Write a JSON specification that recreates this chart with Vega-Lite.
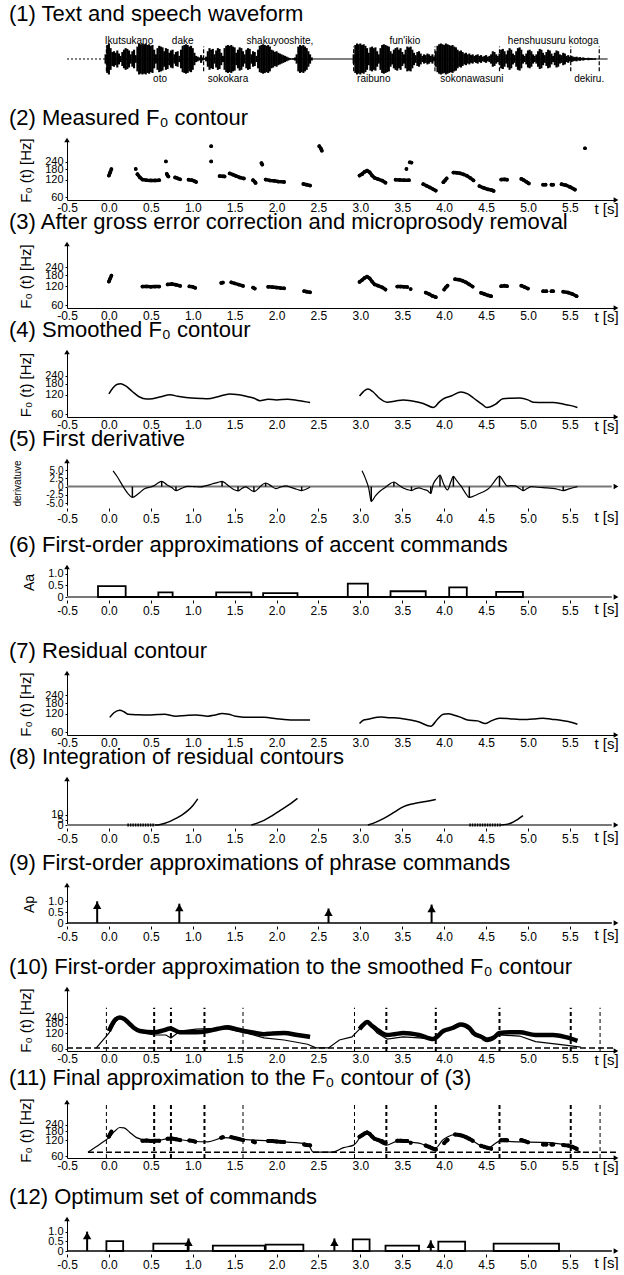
{
"$schema": "https://vega.github.io/schema/vega-lite/v6.json",
"padding": {"left": 9, "top": 3, "right": 0, "bottom": 0},
"spacing": -6,
"config": {
 "font": "Liberation Sans",
 "view": {"stroke": null},
 "title": {"fontSize": 22, "fontWeight": "normal", "anchor": "start", "frame": "group", "dx": -58, "offset": 8, "color": "black", "font": "Liberation Sans"},
 "axis": {"grid": false, "domainColor": "black", "tickColor": "black", "labelColor": "black", "titleColor": "black", "titleFontWeight": "normal"},
 "axisX": {"labelFontSize": 12, "labelPadding": 2, "tickSize": 0, "labelFlush": false, "labelOverlap": false, "titleFontSize": 15, "titleX": 539, "titleY": 1, "titleBaseline": "top", "titleAlign": "center", "titleAngle": 0},
 "axisY": {"labelFontSize": 11, "labelPadding": 2, "tickSize": 2, "minExtent": 28, "maxExtent": 28, "titleFontSize": 15, "titlePadding": 6, "labelOverlap": false, "labelFlush": false}
},
"datasets": {
 "wave": [
  {"t":-0.04,"a":0.3},{"t":-0.02,"a":0.9},{"t":0.0,"a":1.0},{"t":0.02,"a":0.7},{"t":0.04,"a":0.45},{"t":0.06,"a":0.5},{"t":0.08,"a":0.4},{"t":0.1,"a":0.55},{"t":0.12,"a":0.35},{"t":0.14,"a":0.2},{"t":0.16,"a":0.45},{"t":0.18,"a":0.6},{"t":0.2,"a":0.7},{"t":0.22,"a":0.65},{"t":0.24,"a":0.55},{"t":0.26,"a":0.3},{"t":0.28,"a":0.5},{"t":0.3,"a":0.6},{"t":0.32,"a":0.25},{"t":0.34,"a":0.8},{"t":0.36,"a":1.0},{"t":0.38,"a":0.95},{"t":0.4,"a":1.0},{"t":0.42,"a":0.95},{"t":0.44,"a":1.0},{"t":0.46,"a":0.9},{"t":0.48,"a":0.95},{"t":0.5,"a":0.85},{"t":0.52,"a":0.9},{"t":0.54,"a":0.6},{"t":0.56,"a":0.3},{"t":0.58,"a":0.7},{"t":0.6,"a":0.85},{"t":0.62,"a":0.8},{"t":0.64,"a":0.75},{"t":0.66,"a":0.5},{"t":0.68,"a":0.7},{"t":0.7,"a":0.65},{"t":0.72,"a":0.4},{"t":0.74,"a":0.55},{"t":0.76,"a":0.6},{"t":0.78,"a":0.3},{"t":0.8,"a":0.45},{"t":0.82,"a":0.5},{"t":0.84,"a":0.2},{"t":0.86,"a":0.6},{"t":0.88,"a":0.85},{"t":0.9,"a":0.9},{"t":0.92,"a":0.95},{"t":0.94,"a":0.9},{"t":0.96,"a":0.8},{"t":0.98,"a":0.85},{"t":1.0,"a":0.7},{"t":1.02,"a":0.4},{"t":1.04,"a":0.2},{"t":1.06,"a":0.15},{"t":1.08,"a":0.1},{"t":1.1,"a":0.25},{"t":1.12,"a":0.1},{"t":1.14,"a":0.05},{"t":1.16,"a":0.15},{"t":1.18,"a":0.5},{"t":1.2,"a":0.7},{"t":1.22,"a":0.6},{"t":1.24,"a":0.65},{"t":1.26,"a":0.3},{"t":1.28,"a":0.55},{"t":1.3,"a":0.7},{"t":1.32,"a":0.65},{"t":1.34,"a":0.4},{"t":1.36,"a":0.2},{"t":1.38,"a":0.7},{"t":1.4,"a":0.85},{"t":1.42,"a":0.9},{"t":1.44,"a":0.85},{"t":1.46,"a":0.9},{"t":1.48,"a":0.8},{"t":1.5,"a":0.75},{"t":1.52,"a":0.4},{"t":1.54,"a":0.6},{"t":1.56,"a":0.75},{"t":1.58,"a":0.7},{"t":1.6,"a":0.5},{"t":1.62,"a":0.3},{"t":1.64,"a":0.6},{"t":1.66,"a":0.7},{"t":1.68,"a":0.65},{"t":1.7,"a":0.3},{"t":1.72,"a":0.5},{"t":1.74,"a":0.45},{"t":1.76,"a":0.2},{"t":1.78,"a":0.6},{"t":1.8,"a":0.85},{"t":1.82,"a":0.9},{"t":1.84,"a":0.95},{"t":1.86,"a":0.9},{"t":1.88,"a":0.85},{"t":1.9,"a":0.9},{"t":1.92,"a":0.8},{"t":1.94,"a":0.6},{"t":1.96,"a":0.55},{"t":1.98,"a":0.45},{"t":2.0,"a":0.5},{"t":2.02,"a":0.4},{"t":2.04,"a":0.35},{"t":2.06,"a":0.3},{"t":2.08,"a":0.25},{"t":2.1,"a":0.2},{"t":2.12,"a":0.15},{"t":2.14,"a":0.1},{"t":2.16,"a":0.05},{"t":2.18,"a":0.03},{"t":2.2,"a":0.05},{"t":2.22,"a":0.1},{"t":2.24,"a":0.3},{"t":2.26,"a":0.8},{"t":2.28,"a":0.9},{"t":2.3,"a":0.85},{"t":2.32,"a":0.9},{"t":2.34,"a":0.8},{"t":2.36,"a":0.7},{"t":2.38,"a":0.5},{"t":2.4,"a":0.3},{"t":2.42,"a":0.1},
  {"t":2.92,"a":0.3},{"t":2.94,"a":0.9},{"t":2.96,"a":1.0},{"t":2.98,"a":0.95},{"t":3.0,"a":1.0},{"t":3.02,"a":0.9},{"t":3.04,"a":0.95},{"t":3.06,"a":0.85},{"t":3.08,"a":0.7},{"t":3.1,"a":0.4},{"t":3.12,"a":0.75},{"t":3.14,"a":0.8},{"t":3.16,"a":0.7},{"t":3.18,"a":0.75},{"t":3.2,"a":0.5},{"t":3.22,"a":0.3},{"t":3.24,"a":0.7},{"t":3.26,"a":0.9},{"t":3.28,"a":0.95},{"t":3.3,"a":0.9},{"t":3.32,"a":0.85},{"t":3.34,"a":0.8},{"t":3.36,"a":0.5},{"t":3.38,"a":0.35},{"t":3.4,"a":0.6},{"t":3.42,"a":0.7},{"t":3.44,"a":0.75},{"t":3.46,"a":0.6},{"t":3.48,"a":0.7},{"t":3.5,"a":0.45},{"t":3.52,"a":0.3},{"t":3.54,"a":0.6},{"t":3.56,"a":0.8},{"t":3.58,"a":0.75},{"t":3.6,"a":0.8},{"t":3.62,"a":0.6},{"t":3.64,"a":0.4},{"t":3.66,"a":0.25},{"t":3.68,"a":0.45},{"t":3.7,"a":0.5},{"t":3.72,"a":0.35},{"t":3.74,"a":0.2},{"t":3.76,"a":0.3},{"t":3.78,"a":0.25},{"t":3.8,"a":0.35},{"t":3.82,"a":0.3},{"t":3.84,"a":0.2},{"t":3.86,"a":0.3},{"t":3.88,"a":0.15},{"t":3.9,"a":0.5},{"t":3.92,"a":0.85},{"t":3.94,"a":0.95},{"t":3.96,"a":1.0},{"t":3.98,"a":0.95},{"t":4.0,"a":0.9},{"t":4.02,"a":1.0},{"t":4.04,"a":0.95},{"t":4.06,"a":0.9},{"t":4.08,"a":0.85},{"t":4.1,"a":0.9},{"t":4.12,"a":0.8},{"t":4.14,"a":0.75},{"t":4.16,"a":0.6},{"t":4.18,"a":0.5},{"t":4.2,"a":0.55},{"t":4.22,"a":0.45},{"t":4.24,"a":0.35},{"t":4.26,"a":0.4},{"t":4.28,"a":0.3},{"t":4.3,"a":0.35},{"t":4.32,"a":0.25},{"t":4.34,"a":0.3},{"t":4.36,"a":0.2},{"t":4.38,"a":0.25},{"t":4.4,"a":0.3},{"t":4.42,"a":0.2},{"t":4.44,"a":0.25},{"t":4.46,"a":0.15},{"t":4.48,"a":0.2},{"t":4.5,"a":0.25},{"t":4.52,"a":0.15},{"t":4.54,"a":0.2},{"t":4.56,"a":0.3},{"t":4.58,"a":0.5},{"t":4.6,"a":0.45},{"t":4.62,"a":0.3},{"t":4.64,"a":0.2},{"t":4.66,"a":0.35},{"t":4.68,"a":0.6},{"t":4.7,"a":0.65},{"t":4.72,"a":0.5},{"t":4.74,"a":0.3},{"t":4.76,"a":0.55},{"t":4.78,"a":0.7},{"t":4.8,"a":0.6},{"t":4.82,"a":0.35},{"t":4.84,"a":0.25},{"t":4.86,"a":0.5},{"t":4.88,"a":0.7},{"t":4.9,"a":0.75},{"t":4.92,"a":0.6},{"t":4.94,"a":0.3},{"t":4.96,"a":0.2},{"t":4.98,"a":0.35},{"t":5.0,"a":0.55},{"t":5.02,"a":0.6},{"t":5.04,"a":0.5},{"t":5.06,"a":0.3},{"t":5.08,"a":0.2},{"t":5.1,"a":0.3},{"t":5.12,"a":0.5},{"t":5.14,"a":0.65},{"t":5.16,"a":0.6},{"t":5.18,"a":0.4},{"t":5.2,"a":0.25},{"t":5.22,"a":0.45},{"t":5.24,"a":0.6},{"t":5.26,"a":0.55},{"t":5.28,"a":0.35},{"t":5.3,"a":0.2},{"t":5.32,"a":0.4},{"t":5.34,"a":0.55},{"t":5.36,"a":0.5},{"t":5.38,"a":0.3},{"t":5.4,"a":0.25},{"t":5.42,"a":0.4},{"t":5.44,"a":0.35},{"t":5.46,"a":0.2},{"t":5.48,"a":0.25},{"t":5.5,"a":0.15},{"t":5.52,"a":0.2},{"t":5.54,"a":0.15},{"t":5.56,"a":0.12},{"t":5.58,"a":0.15},{"t":5.6,"a":0.1},{"t":5.62,"a":0.12},{"t":5.64,"a":0.08},{"t":5.66,"a":0.1},{"t":5.68,"a":0.06},{"t":5.7,"a":0.05},{"t":5.72,"a":0.08},{"t":5.74,"a":0.05},{"t":5.76,"a":0.06},{"t":5.78,"a":0.04},{"t":5.8,"a":0.05}
 ],
 "wbounds": [{"t":-0.03},{"t":1.13},{"t":2.92},{"t":3.89},{"t":4.66},{"t":5.51},{"t":5.85}],
 "words": [
  {"w":"Ikutsukano","t":0.24,"r":"u"},{"w":"dake","t":0.88,"r":"u"},{"w":"shakuyooshite,","t":2.04,"r":"u"},{"w":"fun'ikio","t":3.53,"r":"u"},{"w":"henshuusuru kotoga","t":5.3,"r":"u"},
  {"w":"oto","t":0.61,"r":"l"},{"w":"sokokara","t":1.42,"r":"l"},{"w":"raibuno","t":3.16,"r":"l"},{"w":"sokonawasuni","t":4.33,"r":"l"},{"w":"dekiru.","t":5.73,"r":"l"}
 ],
 "f0meas": [
  {"s":1,"t":0.0,"f":140},{"s":1,"t":0.015,"f":158},{"s":1,"t":0.03,"f":180},
  {"s":2,"t":0.32,"f":181},
  {"s":3,"t":0.34,"f":148},{"s":3,"t":0.37,"f":130},{"s":3,"t":0.4,"f":120},{"s":3,"t":0.45,"f":117},{"s":3,"t":0.5,"f":116},{"s":3,"t":0.55,"f":116},{"s":3,"t":0.6,"f":117},
  {"s":4,"t":0.68,"f":243},
  {"s":5,"t":0.69,"f":150},{"s":5,"t":0.7,"f":140},{"s":5,"t":0.71,"f":135},
  {"s":6,"t":0.79,"f":130},{"s":6,"t":0.82,"f":126},{"s":6,"t":0.85,"f":121},
  {"s":7,"t":0.95,"f":119},{"s":7,"t":0.99,"f":117},{"s":7,"t":1.02,"f":113},{"s":7,"t":1.04,"f":109},
  {"s":8,"t":1.22,"f":440},
  {"s":9,"t":1.22,"f":243},
  {"s":10,"t":1.32,"f":137},{"s":10,"t":1.36,"f":136},{"s":10,"t":1.38,"f":135},
  {"s":11,"t":1.44,"f":152},{"s":11,"t":1.48,"f":145},{"s":11,"t":1.52,"f":137},{"s":11,"t":1.56,"f":130},{"s":11,"t":1.61,"f":125},
  {"s":12,"t":1.72,"f":117},{"s":12,"t":1.74,"f":110},{"s":12,"t":1.75,"f":105},
  {"s":13,"t":1.82,"f":228},{"s":13,"t":1.83,"f":215},
  {"s":14,"t":1.87,"f":120},{"s":14,"t":1.92,"f":116},{"s":14,"t":1.97,"f":114},{"s":14,"t":2.02,"f":111},{"s":14,"t":2.09,"f":109},
  {"s":15,"t":2.32,"f":101},{"s":15,"t":2.36,"f":98},{"s":15,"t":2.4,"f":95},
  {"s":16,"t":2.51,"f":440},{"s":16,"t":2.53,"f":400},{"s":16,"t":2.54,"f":370},
  {"s":17,"t":2.99,"f":140},{"s":17,"t":3.02,"f":148},{"s":17,"t":3.05,"f":162},{"s":17,"t":3.08,"f":170},{"s":17,"t":3.11,"f":160},{"s":17,"t":3.14,"f":140},{"s":17,"t":3.17,"f":128},{"s":17,"t":3.21,"f":122},{"s":17,"t":3.26,"f":115},{"s":17,"t":3.3,"f":106},
  {"s":18,"t":3.42,"f":119},{"s":18,"t":3.47,"f":118},{"s":18,"t":3.52,"f":117},{"s":18,"t":3.58,"f":117},
  {"s":19,"t":3.55,"f":181},
  {"s":20,"t":3.59,"f":235},{"s":20,"t":3.61,"f":232},
  {"s":21,"t":3.75,"f":100},{"s":21,"t":3.79,"f":94},{"s":21,"t":3.83,"f":88},{"s":21,"t":3.87,"f":82},{"s":21,"t":3.9,"f":78},
  {"s":22,"t":3.99,"f":108},{"s":22,"t":4.01,"f":116},{"s":22,"t":4.03,"f":125},
  {"s":23,"t":4.11,"f":157},{"s":23,"t":4.15,"f":156},{"s":23,"t":4.19,"f":153},{"s":23,"t":4.23,"f":147},{"s":23,"t":4.27,"f":139},{"s":23,"t":4.31,"f":128},{"s":23,"t":4.35,"f":116},
  {"s":24,"t":4.42,"f":93},{"s":24,"t":4.47,"f":87},{"s":24,"t":4.52,"f":82},{"s":24,"t":4.57,"f":79},{"s":24,"t":4.59,"f":77},
  {"s":25,"t":4.68,"f":120},{"s":25,"t":4.72,"f":121},{"s":25,"t":4.75,"f":119},
  {"s":26,"t":4.92,"f":123},{"s":26,"t":4.95,"f":117},{"s":26,"t":4.98,"f":110},{"s":26,"t":5.01,"f":103},
  {"s":27,"t":5.18,"f":98},{"s":27,"t":5.21,"f":98},
  {"s":28,"t":5.28,"f":98},{"s":28,"t":5.3,"f":98},
  {"s":29,"t":5.4,"f":100},{"s":29,"t":5.45,"f":96},{"s":29,"t":5.5,"f":90},{"s":29,"t":5.56,"f":81},
  {"s":30,"t":5.68,"f":406}
 ],
 "f0corr": [
  {"s":1,"t":0.0,"f":142},{"s":1,"t":0.015,"f":158},{"s":1,"t":0.03,"f":176},
  {"s":2,"t":0.4,"f":118},{"s":2,"t":0.45,"f":119},{"s":2,"t":0.5,"f":117},{"s":2,"t":0.55,"f":118},{"s":2,"t":0.6,"f":118},
  {"s":3,"t":0.7,"f":128},{"s":3,"t":0.75,"f":130},{"s":3,"t":0.8,"f":126},{"s":3,"t":0.85,"f":121},
  {"s":4,"t":0.96,"f":119},{"s":4,"t":1.0,"f":117},{"s":4,"t":1.03,"f":113},
  {"s":5,"t":1.34,"f":135},{"s":5,"t":1.36,"f":137},
  {"s":6,"t":1.46,"f":138},{"s":6,"t":1.5,"f":133},{"s":6,"t":1.55,"f":127},{"s":6,"t":1.6,"f":121},
  {"s":7,"t":1.72,"f":114},{"s":7,"t":1.74,"f":110},
  {"s":8,"t":1.9,"f":117},{"s":8,"t":1.95,"f":116},{"s":8,"t":2.0,"f":114},{"s":8,"t":2.05,"f":112},{"s":8,"t":2.09,"f":111},
  {"s":9,"t":2.33,"f":100},{"s":9,"t":2.36,"f":98},{"s":9,"t":2.4,"f":96},
  {"s":10,"t":2.99,"f":140},{"s":10,"t":3.02,"f":150},{"s":10,"t":3.05,"f":162},{"s":10,"t":3.08,"f":170},{"s":10,"t":3.11,"f":160},{"s":10,"t":3.14,"f":142},{"s":10,"t":3.17,"f":128},{"s":10,"t":3.21,"f":122},{"s":10,"t":3.26,"f":115},{"s":10,"t":3.3,"f":106},
  {"s":11,"t":3.44,"f":118},{"s":11,"t":3.48,"f":118},{"s":11,"t":3.52,"f":117},{"s":11,"t":3.56,"f":116},
  {"s":12,"t":3.6,"f":108},
  {"s":13,"t":3.78,"f":95},{"s":13,"t":3.82,"f":90},{"s":13,"t":3.86,"f":84},{"s":13,"t":3.9,"f":80},
  {"s":14,"t":4.0,"f":106},{"s":14,"t":4.02,"f":115},{"s":14,"t":4.04,"f":122},
  {"s":15,"t":4.13,"f":155},{"s":15,"t":4.18,"f":152},{"s":15,"t":4.22,"f":146},{"s":15,"t":4.26,"f":138},{"s":15,"t":4.3,"f":128},{"s":15,"t":4.34,"f":118},
  {"s":16,"t":4.44,"f":94},{"s":16,"t":4.48,"f":90},{"s":16,"t":4.52,"f":86},{"s":16,"t":4.56,"f":83},
  {"s":17,"t":4.68,"f":120},{"s":17,"t":4.72,"f":122},{"s":17,"t":4.75,"f":120},
  {"s":18,"t":4.92,"f":122},{"s":18,"t":4.96,"f":116},{"s":18,"t":5.0,"f":110},
  {"s":19,"t":5.18,"f":100},{"s":19,"t":5.22,"f":100},
  {"s":20,"t":5.28,"f":100},{"s":20,"t":5.3,"f":100},
  {"s":21,"t":5.42,"f":98},{"s":21,"t":5.48,"f":95},{"s":21,"t":5.53,"f":90},{"s":21,"t":5.58,"f":83}
 ],
 "smooth": [
  {"s":1,"t":0.0,"f":124},{"s":1,"t":0.05,"f":155},{"s":1,"t":0.1,"f":175},{"s":1,"t":0.14,"f":178},{"s":1,"t":0.2,"f":165},{"s":1,"t":0.28,"f":135},{"s":1,"t":0.36,"f":112},{"s":1,"t":0.45,"f":103},{"s":1,"t":0.52,"f":104},{"s":1,"t":0.62,"f":112},{"s":1,"t":0.73,"f":120},{"s":1,"t":0.82,"f":114},{"s":1,"t":0.92,"f":109},{"s":1,"t":0.99,"f":107},{"s":1,"t":1.1,"f":105},{"s":1,"t":1.18,"f":104},{"s":1,"t":1.3,"f":112},{"s":1,"t":1.44,"f":124},{"s":1,"t":1.55,"f":120},{"s":1,"t":1.66,"f":112},{"s":1,"t":1.74,"f":105},{"s":1,"t":1.8,"f":97},{"s":1,"t":1.9,"f":102},{"s":1,"t":2.0,"f":100},{"s":1,"t":2.13,"f":102},{"s":1,"t":2.25,"f":98},{"s":1,"t":2.4,"f":91},
  {"s":2,"t":2.99,"f":115},{"s":2,"t":3.04,"f":136},{"s":2,"t":3.09,"f":148},{"s":2,"t":3.15,"f":134},{"s":2,"t":3.22,"f":108},{"s":2,"t":3.32,"f":92},{"s":2,"t":3.42,"f":96},{"s":2,"t":3.51,"f":100},{"s":2,"t":3.62,"f":96},{"s":2,"t":3.75,"f":88},{"s":2,"t":3.87,"f":76},{"s":2,"t":3.95,"f":95},{"s":2,"t":3.99,"f":104},{"s":2,"t":4.09,"f":116},{"s":2,"t":4.2,"f":133},{"s":2,"t":4.28,"f":124},{"s":2,"t":4.35,"f":107},{"s":2,"t":4.45,"f":86},{"s":2,"t":4.51,"f":76},{"s":2,"t":4.61,"f":85},{"s":2,"t":4.7,"f":104},{"s":2,"t":4.8,"f":106},{"s":2,"t":4.9,"f":107},{"s":2,"t":5.0,"f":100},{"s":2,"t":5.06,"f":92},{"s":2,"t":5.2,"f":91},{"s":2,"t":5.3,"f":91},{"s":2,"t":5.42,"f":86},{"s":2,"t":5.5,"f":82},{"s":2,"t":5.59,"f":76}
 ],
 "deriv": [
  {"s":1,"t":0.05,"v":4.8,"e":0},{"s":1,"t":0.1,"v":3.0,"e":0},{"s":1,"t":0.18,"v":-0.4,"e":0},{"s":1,"t":0.23,"v":-2.2,"e":0},{"s":1,"t":0.28,"v":-3.3,"e":1},{"s":1,"t":0.35,"v":-2.2,"e":0},{"s":1,"t":0.42,"v":-0.7,"e":0},{"s":1,"t":0.5,"v":-0.1,"e":0},{"s":1,"t":0.54,"v":0.3,"e":0},{"s":1,"t":0.58,"v":1.0,"e":0},{"s":1,"t":0.63,"v":1.6,"e":1},{"s":1,"t":0.69,"v":0.6,"e":0},{"s":1,"t":0.75,"v":-0.3,"e":0},{"s":1,"t":0.8,"v":-1.2,"e":1},{"s":1,"t":0.86,"v":-0.6,"e":0},{"s":1,"t":0.94,"v":0.1,"e":0},{"s":1,"t":1.02,"v":0.0,"e":0},{"s":1,"t":1.09,"v":-0.1,"e":0},{"s":1,"t":1.16,"v":0.3,"e":0},{"s":1,"t":1.23,"v":0.8,"e":0},{"s":1,"t":1.3,"v":1.3,"e":0},{"s":1,"t":1.35,"v":1.6,"e":1},{"s":1,"t":1.4,"v":0.8,"e":0},{"s":1,"t":1.44,"v":0.0,"e":0},{"s":1,"t":1.49,"v":-0.9,"e":0},{"s":1,"t":1.54,"v":-1.3,"e":1},{"s":1,"t":1.59,"v":-0.5,"e":0},{"s":1,"t":1.63,"v":-0.1,"e":0},{"s":1,"t":1.68,"v":-0.8,"e":0},{"s":1,"t":1.73,"v":-1.5,"e":1},{"s":1,"t":1.79,"v":-0.4,"e":0},{"s":1,"t":1.83,"v":0.6,"e":0},{"s":1,"t":1.87,"v":1.1,"e":1},{"s":1,"t":1.93,"v":0.3,"e":0},{"s":1,"t":1.99,"v":-0.6,"e":0},{"s":1,"t":2.05,"v":-0.1,"e":0},{"s":1,"t":2.11,"v":0.2,"e":0},{"s":1,"t":2.18,"v":-0.3,"e":0},{"s":1,"t":2.24,"v":-0.8,"e":0},{"s":1,"t":2.3,"v":-1.2,"e":1},{"s":1,"t":2.35,"v":-0.8,"e":0},{"s":1,"t":2.4,"v":-0.1,"e":0},
  {"s":2,"t":3.02,"v":4.8,"e":0},{"s":2,"t":3.06,"v":2.5,"e":0},{"s":2,"t":3.1,"v":-0.5,"e":0},{"s":2,"t":3.13,"v":-4.5,"e":1},{"s":2,"t":3.18,"v":-2.8,"e":0},{"s":2,"t":3.23,"v":-1.5,"e":0},{"s":2,"t":3.3,"v":-0.2,"e":0},{"s":2,"t":3.35,"v":0.8,"e":0},{"s":2,"t":3.4,"v":1.4,"e":1},{"s":2,"t":3.46,"v":0.4,"e":0},{"s":2,"t":3.51,"v":-0.4,"e":0},{"s":2,"t":3.56,"v":-0.9,"e":0},{"s":2,"t":3.61,"v":-1.2,"e":1},{"s":2,"t":3.66,"v":-0.6,"e":0},{"s":2,"t":3.7,"v":-0.4,"e":0},{"s":2,"t":3.75,"v":-0.8,"e":0},{"s":2,"t":3.8,"v":-1.2,"e":0},{"s":2,"t":3.84,"v":-2.1,"e":1},{"s":2,"t":3.87,"v":0.8,"e":0},{"s":2,"t":3.91,"v":2.4,"e":0},{"s":2,"t":3.95,"v":3.5,"e":1},{"s":2,"t":3.99,"v":1.0,"e":0},{"s":2,"t":4.04,"v":-1.0,"e":0},{"s":2,"t":4.08,"v":1.5,"e":0},{"s":2,"t":4.11,"v":3.1,"e":1},{"s":2,"t":4.15,"v":1.8,"e":0},{"s":2,"t":4.2,"v":0.2,"e":0},{"s":2,"t":4.25,"v":-1.8,"e":0},{"s":2,"t":4.3,"v":-3.3,"e":1},{"s":2,"t":4.36,"v":-2.8,"e":0},{"s":2,"t":4.42,"v":-2.1,"e":0},{"s":2,"t":4.48,"v":-1.4,"e":0},{"s":2,"t":4.54,"v":-0.4,"e":0},{"s":2,"t":4.6,"v":1.6,"e":0},{"s":2,"t":4.66,"v":3.2,"e":1},{"s":2,"t":4.71,"v":1.5,"e":0},{"s":2,"t":4.75,"v":0.2,"e":0},{"s":2,"t":4.8,"v":0.3,"e":0},{"s":2,"t":4.85,"v":0.2,"e":0},{"s":2,"t":4.9,"v":-0.6,"e":0},{"s":2,"t":4.94,"v":-1.2,"e":1},{"s":2,"t":4.99,"v":-0.6,"e":0},{"s":2,"t":5.04,"v":0.0,"e":0},{"s":2,"t":5.12,"v":-0.2,"e":0},{"s":2,"t":5.23,"v":-0.4,"e":0},{"s":2,"t":5.32,"v":-0.6,"e":0},{"s":2,"t":5.37,"v":-0.9,"e":0},{"s":2,"t":5.42,"v":-1.2,"e":1},{"s":2,"t":5.5,"v":-0.6,"e":0},{"s":2,"t":5.59,"v":0.0,"e":0}
 ],
 "acc1": [
  {"t0":-0.13,"t1":0.2,"aa":0.47},{"t0":0.59,"t1":0.76,"aa":0.2},{"t0":1.28,"t1":1.7,"aa":0.2},{"t0":1.84,"t1":2.25,"aa":0.17},{"t0":2.85,"t1":3.09,"aa":0.58},{"t0":3.36,"t1":3.78,"aa":0.25},{"t0":4.06,"t1":4.27,"aa":0.42},{"t0":4.62,"t1":4.94,"aa":0.22}
 ],
 "resid": [
  {"s":1,"t":0.01,"f":105},{"s":1,"t":0.06,"f":125},{"s":1,"t":0.13,"f":138},{"s":1,"t":0.18,"f":130},{"s":1,"t":0.23,"f":118},{"s":1,"t":0.35,"f":116},{"s":1,"t":0.47,"f":115},{"s":1,"t":0.58,"f":117},{"s":1,"t":0.66,"f":118},{"s":1,"t":0.8,"f":110},{"s":1,"t":0.92,"f":113},{"s":1,"t":1.04,"f":115},{"s":1,"t":1.18,"f":110},{"s":1,"t":1.27,"f":115},{"s":1,"t":1.35,"f":122},{"s":1,"t":1.43,"f":118},{"s":1,"t":1.51,"f":110},{"s":1,"t":1.7,"f":105},{"s":1,"t":1.85,"f":105},{"s":1,"t":2.0,"f":100},{"s":1,"t":2.09,"f":97},{"s":1,"t":2.25,"f":95},{"s":1,"t":2.4,"f":95},
  {"s":2,"t":2.99,"f":83},{"s":2,"t":3.04,"f":95},{"s":2,"t":3.09,"f":98},{"s":2,"t":3.25,"f":106},{"s":2,"t":3.35,"f":104},{"s":2,"t":3.47,"f":102},{"s":2,"t":3.6,"f":95},{"s":2,"t":3.7,"f":88},{"s":2,"t":3.84,"f":75},{"s":2,"t":3.92,"f":98},{"s":2,"t":3.99,"f":118},{"s":2,"t":4.05,"f":120},{"s":2,"t":4.11,"f":115},{"s":2,"t":4.2,"f":105},{"s":2,"t":4.28,"f":95},{"s":2,"t":4.4,"f":92},{"s":2,"t":4.49,"f":83},{"s":2,"t":4.56,"f":92},{"s":2,"t":4.66,"f":102},{"s":2,"t":4.78,"f":100},{"s":2,"t":4.9,"f":97},{"s":2,"t":4.99,"f":97},{"s":2,"t":5.1,"f":100},{"s":2,"t":5.18,"f":102},{"s":2,"t":5.28,"f":98},{"s":2,"t":5.37,"f":95},{"s":2,"t":5.48,"f":90},{"s":2,"t":5.59,"f":81}
 ],
 "integ": [
  {"s":1,"t":0.55,"v":0},{"s":1,"t":0.6,"v":0.3},{"s":1,"t":0.66,"v":1.5},{"s":1,"t":0.73,"v":3.5},{"s":1,"t":0.8,"v":6.3},{"s":1,"t":0.87,"v":9.5},{"s":1,"t":0.94,"v":13.7},{"s":1,"t":1.0,"v":18.5},{"s":1,"t":1.06,"v":25},
  {"s":2,"t":1.7,"v":0},{"s":2,"t":1.77,"v":1.8},{"s":2,"t":1.85,"v":4.4},{"s":2,"t":1.95,"v":9},{"s":2,"t":2.04,"v":13.7},{"s":2,"t":2.15,"v":19.5},{"s":2,"t":2.25,"v":25.5},
  {"s":3,"t":3.09,"v":0},{"s":3,"t":3.18,"v":2.5},{"s":3,"t":3.28,"v":6.3},{"s":3,"t":3.4,"v":12},{"s":3,"t":3.51,"v":17.4},{"s":3,"t":3.6,"v":19.8},{"s":3,"t":3.66,"v":20.8},{"s":3,"t":3.78,"v":22.5},{"s":3,"t":3.9,"v":24.5},
  {"s":4,"t":4.68,"v":0},{"s":4,"t":4.74,"v":0.6},{"s":4,"t":4.8,"v":1.9},{"s":4,"t":4.87,"v":5},{"s":4,"t":4.94,"v":8.9}
 ],
 "flat": [{"t0":0.22,"t1":0.55},{"t0":4.3,"t1":4.68}],
 "phr1": [{"t":-0.14,"ap":1.0},{"t":0.84,"ap":0.89},{"t":2.62,"ap":0.67},{"t":3.85,"ap":0.85}],
 "p10s": [
  {"s":1,"t":0.0,"f":131},{"s":1,"t":0.05,"f":190},{"s":1,"t":0.08,"f":220},{"s":1,"t":0.13,"f":240},{"s":1,"t":0.18,"f":225},{"s":1,"t":0.24,"f":185},{"s":1,"t":0.3,"f":150},{"s":1,"t":0.37,"f":131},{"s":1,"t":0.54,"f":124},{"s":1,"t":0.65,"f":135},{"s":1,"t":0.73,"f":147},{"s":1,"t":0.85,"f":124},{"s":1,"t":1.04,"f":124},{"s":1,"t":1.18,"f":131},{"s":1,"t":1.3,"f":145},{"s":1,"t":1.42,"f":155},{"s":1,"t":1.5,"f":145},{"s":1,"t":1.61,"f":131},{"s":1,"t":1.75,"f":120},{"s":1,"t":1.85,"f":114},{"s":1,"t":1.95,"f":118},{"s":1,"t":2.09,"f":120},{"s":1,"t":2.25,"f":110},{"s":1,"t":2.4,"f":101},
  {"s":2,"t":2.99,"f":143},{"s":2,"t":3.03,"f":170},{"s":2,"t":3.08,"f":195},{"s":2,"t":3.13,"f":170},{"s":2,"t":3.19,"f":143},{"s":2,"t":3.32,"f":110},{"s":2,"t":3.42,"f":115},{"s":2,"t":3.51,"f":120},{"s":2,"t":3.7,"f":110},{"s":2,"t":3.87,"f":92},{"s":2,"t":3.99,"f":131},{"s":2,"t":4.1,"f":150},{"s":2,"t":4.2,"f":176},{"s":2,"t":4.3,"f":150},{"s":2,"t":4.35,"f":120},{"s":2,"t":4.45,"f":100},{"s":2,"t":4.51,"f":88},{"s":2,"t":4.6,"f":100},{"s":2,"t":4.66,"f":120},{"s":2,"t":4.8,"f":124},{"s":2,"t":4.9,"f":124},{"s":2,"t":5.09,"f":110},{"s":2,"t":5.3,"f":110},{"s":2,"t":5.45,"f":100},{"s":2,"t":5.59,"f":85}
 ],
 "p10m": [
  {"t":-0.15,"f":62},{"t":0.0,"f":120},{"t":0.08,"f":200},{"t":0.13,"f":235},{"t":0.2,"f":210},{"t":0.3,"f":150},{"t":0.37,"f":124},{"t":0.54,"f":110},{"t":0.68,"f":110},{"t":0.74,"f":96},{"t":0.85,"f":131},{"t":1.04,"f":143},{"t":1.28,"f":147},{"t":1.42,"f":143},{"t":1.61,"f":124},{"t":1.85,"f":97},{"t":2.09,"f":88},{"t":2.37,"f":73},{"t":2.47,"f":62},{"t":2.62,"f":62},{"t":2.75,"f":88},{"t":2.9,"f":101},{"t":2.99,"f":143},{"t":3.08,"f":202},{"t":3.2,"f":120},{"t":3.32,"f":92},{"t":3.51,"f":101},{"t":3.7,"f":97},{"t":3.85,"f":92},{"t":3.99,"f":131},{"t":4.18,"f":185},{"t":4.35,"f":124},{"t":4.51,"f":96},{"t":4.66,"f":110},{"t":4.9,"f":105},{"t":5.09,"f":82},{"t":5.42,"f":71},{"t":5.63,"f":64}
 ],
 "bounds": [
  {"t":-0.03,"k":"minor"},{"t":0.54,"k":"major"},{"t":0.74,"k":"major"},{"t":1.14,"k":"major"},{"t":1.6,"k":"minor"},{"t":2.93,"k":"minor"},{"t":3.31,"k":"major"},{"t":3.9,"k":"major"},{"t":4.66,"k":"major"},{"t":5.51,"k":"major"},{"t":5.86,"k":"minor"}
 ],
 "p11m": [
  {"t":-0.25,"f":71},{"t":-0.1,"f":103},{"t":0.0,"f":135},{"t":0.07,"f":180},{"t":0.13,"f":211},{"t":0.18,"f":208},{"t":0.25,"f":170},{"t":0.33,"f":135},{"t":0.51,"f":115},{"t":0.73,"f":129},{"t":0.99,"f":115},{"t":1.18,"f":112},{"t":1.37,"f":135},{"t":1.61,"f":125},{"t":2.09,"f":112},{"t":2.37,"f":103},{"t":2.44,"f":71},{"t":2.66,"f":71},{"t":2.8,"f":87},{"t":2.92,"f":97},{"t":3.06,"f":173},{"t":3.18,"f":125},{"t":3.31,"f":97},{"t":3.44,"f":115},{"t":3.7,"f":106},{"t":3.89,"f":83},{"t":3.99,"f":125},{"t":4.18,"f":160},{"t":4.35,"f":115},{"t":4.51,"f":83},{"t":4.66,"f":115},{"t":4.9,"f":112},{"t":5.18,"f":110},{"t":5.46,"f":97},{"t":5.59,"f":76},{"t":5.63,"f":71}
 ],
 "acc2": [
  {"t0":-0.03,"t1":0.17,"aa":0.51},{"t0":0.53,"t1":0.94,"aa":0.38},{"t0":1.24,"t1":1.86,"aa":0.28},{"t0":1.87,"t1":2.32,"aa":0.33},{"t0":2.91,"t1":3.11,"aa":0.6},{"t0":3.3,"t1":3.7,"aa":0.28},{"t0":3.93,"t1":4.25,"aa":0.48},{"t0":4.59,"t1":5.37,"aa":0.38}
 ],
 "phr2": [{"t":-0.26,"ap":1.0},{"t":0.95,"ap":0.65},{"t":2.69,"ap":0.65},{"t":3.84,"ap":0.55}]
},
"vconcat": [
 {
  "title": "(1) Text and speech waveform",
  "width": 549, "height": 78,
  "layer": [
   {"data": {"values": [{}]}, "mark": {"type": "rule", "color": "black", "strokeWidth": 1, "strokeDash": [2, 2]},
    "encoding": {"x": {"datum": -0.5, "type": "quantitative", "scale": {"domain": [-0.5, 6.05], "nice": false, "zero": false}, "axis": null}, "x2": {"datum": -0.06}, "y": {"datum": 0, "type": "quantitative", "scale": {"domain": [-4.71, 2.22], "nice": false, "zero": false}, "axis": null}}},
   {"data": {"values": [{}]}, "mark": {"type": "rule", "color": "black", "strokeWidth": 1}, "encoding": {"x": {"datum": -0.06}, "x2": {"datum": 5.95}, "y": {"datum": 0}}},
   {"data": {"name": "wave"}, "mark": {"type": "tick", "orient": "vertical", "color": "black", "thickness": 2.1, "opacity": 1}, "encoding": {"x": {"field": "t", "type": "quantitative"}, "y": {"datum": 0}, "size": {"field": "a", "type": "quantitative", "scale": {"domain": [0, 1], "range": [0, 31]}, "legend": null}}},
   {"data": {"name": "wbounds"}, "mark": {"type": "rule", "color": "black", "strokeWidth": 1.2, "strokeDash": [4, 2]}, "encoding": {"x": {"field": "t", "type": "quantitative"}, "y": {"datum": -1.1}, "y2": {"datum": 1.1}}},
   {"data": {"name": "words"}, "transform": [{"filter": "datum.r == 'u'"}], "mark": {"type": "text", "fontSize": 10, "color": "black"}, "encoding": {"x": {"field": "t", "type": "quantitative"}, "y": {"datum": 1.6}, "text": {"field": "w", "type": "nominal"}}},
   {"data": {"name": "words"}, "transform": [{"filter": "datum.r == 'l'"}], "mark": {"type": "text", "fontSize": 10, "color": "black"}, "encoding": {"x": {"field": "t", "type": "quantitative"}, "y": {"datum": -1.78}, "text": {"field": "w", "type": "nominal"}}}
  ]
 },
 {
  "title": "(2) Measured F₀ contour",
  "width": 549, "height": 60,
  "layer": [
   {"data": {"name": "f0meas"}, "mark": {"type": "line", "color": "black", "strokeWidth": 3.5, "strokeCap": "round", "strokeJoin": "round"},
    "encoding": {"x": {"field": "t", "type": "quantitative", "scale": {"domain": [-0.5, 6.05], "nice": false, "zero": false}, "axis": {"values": [-0.5,0,0.5,1,1.5,2,2.5,3,3.5,4,4.5,5,5.5], "labelExpr": "datum.value < 0 ? '-' + format(-datum.value, '.1f') : format(datum.value, '.1f')", "title": "t [s]"}},
     "y": {"field": "f", "type": "quantitative", "scale": {"type": "log", "domain": [54, 560], "nice": false}, "axis": {"values": [60,120,180,240], "title": "F₀ (t) [Hz]", "labelOverlap": false, "tickCount": 10}}, "detail": {"field": "s", "type": "nominal"}}},
   {"data": {"name": "f0meas"}, "mark": {"type": "circle", "color": "black", "size": 14, "opacity": 1}, "encoding": {"x": {"field": "t", "type": "quantitative"}, "y": {"field": "f", "type": "quantitative"}}},
   {"data": {"values": [{}]}, "mark": {"type": "point", "shape": "triangle-up", "filled": true, "color": "black", "size": 30, "opacity": 1}, "encoding": {"x": {"datum": -0.5}, "y": {"datum": 560}}},
   {"data": {"values": [{}]}, "mark": {"type": "point", "shape": "triangle-right", "filled": true, "color": "black", "size": 30, "opacity": 1}, "encoding": {"x": {"datum": 6.05}, "y": {"datum": 54}}}
  ]
 },
 {
  "title": "(3) After gross error correction and microprosody removal",
  "width": 549, "height": 64,
  "layer": [
   {"data": {"name": "f0corr"}, "mark": {"type": "line", "color": "black", "strokeWidth": 3.5, "strokeCap": "round", "strokeJoin": "round"},
    "encoding": {"x": {"field": "t", "type": "quantitative", "scale": {"domain": [-0.5, 6.05], "nice": false, "zero": false}, "axis": {"values": [-0.5,0,0.5,1,1.5,2,2.5,3,3.5,4,4.5,5,5.5], "labelExpr": "datum.value < 0 ? '-' + format(-datum.value, '.1f') : format(datum.value, '.1f')", "title": "t [s]"}},
     "y": {"field": "f", "type": "quantitative", "scale": {"type": "log", "domain": [54, 560], "nice": false}, "axis": {"values": [60,120,180,240], "title": "F₀ (t) [Hz]", "labelOverlap": false, "tickCount": 10}}, "detail": {"field": "s", "type": "nominal"}}},
   {"data": {"name": "f0corr"}, "mark": {"type": "circle", "color": "black", "size": 14, "opacity": 1}, "encoding": {"x": {"field": "t", "type": "quantitative"}, "y": {"field": "f", "type": "quantitative"}}},
   {"data": {"values": [{}]}, "mark": {"type": "point", "shape": "triangle-up", "filled": true, "color": "black", "size": 30, "opacity": 1}, "encoding": {"x": {"datum": -0.5}, "y": {"datum": 560}}},
   {"data": {"values": [{}]}, "mark": {"type": "point", "shape": "triangle-right", "filled": true, "color": "black", "size": 30, "opacity": 1}, "encoding": {"x": {"datum": 6.05}, "y": {"datum": 54}}}
  ]
 },
 {
  "title": "(4) Smoothed F₀ contour",
  "width": 549, "height": 65,
  "layer": [
   {"data": {"name": "smooth"}, "mark": {"type": "line", "color": "black", "strokeWidth": 1.5, "interpolate": "monotone"},
    "encoding": {"x": {"field": "t", "type": "quantitative", "scale": {"domain": [-0.5, 6.05], "nice": false, "zero": false}, "axis": {"values": [-0.5,0,0.5,1,1.5,2,2.5,3,3.5,4,4.5,5,5.5], "labelExpr": "datum.value < 0 ? '-' + format(-datum.value, '.1f') : format(datum.value, '.1f')", "title": "t [s]"}},
     "y": {"field": "f", "type": "quantitative", "scale": {"type": "log", "domain": [54, 560], "nice": false}, "axis": {"values": [60,120,180,240], "title": "F₀ (t) [Hz]", "labelOverlap": false, "tickCount": 10}}, "detail": {"field": "s", "type": "nominal"}}},
   {"data": {"values": [{}]}, "mark": {"type": "point", "shape": "triangle-up", "filled": true, "color": "black", "size": 30, "opacity": 1}, "encoding": {"x": {"datum": -0.5}, "y": {"datum": 560}}},
   {"data": {"values": [{}]}, "mark": {"type": "point", "shape": "triangle-right", "filled": true, "color": "black", "size": 30, "opacity": 1}, "encoding": {"x": {"datum": 6.05}, "y": {"datum": 54}}}
  ]
 },
 {
  "title": "(5) First derivative",
  "width": 549, "height": 44,
  "layer": [
   {"data": {"values": [{}]}, "mark": {"type": "rule", "color": "#777777", "strokeWidth": 2}, "encoding": {"x": {"datum": -0.5}, "x2": {"datum": 6.0}, "y": {"datum": 0}}},
   {"data": {"name": "deriv"}, "mark": {"type": "line", "color": "black", "strokeWidth": 1.2, "interpolate": "monotone"},
    "encoding": {"x": {"field": "t", "type": "quantitative", "scale": {"domain": [-0.5, 6.05], "nice": false, "zero": false}, "axis": {"values": [-0.5,0,0.5,1,1.5,2,2.5,3,3.5,4,4.5,5,5.5], "labelExpr": "datum.value < 0 ? '-' + format(-datum.value, '.1f') : format(datum.value, '.1f')", "title": ["t [s]", ""], "titleLineHeight": 15, "domain": false, "tickSize": 3, "offset": 3}},
     "y": {"field": "v", "type": "quantitative", "scale": {"domain": [-5.6, 7.8], "nice": false, "zero": false}, "axis": {"values": [-5, -2.5, 0, 2.5, 5], "tickCount": 10, "labelExpr": "datum.value == 0 ? '0' : (datum.value < 0 ? '-' + format(-datum.value, '.1f') : format(datum.value, '.1f'))", "labelOverlap": false, "labelFontSize": 10, "title": "derivatuve", "titleFontSize": 10, "titlePadding": 17}},
     "detail": {"field": "s", "type": "nominal"}}},
   {"data": {"name": "deriv"}, "transform": [{"filter": "datum.e == 1"}], "mark": {"type": "rule", "color": "black", "strokeWidth": 1.5}, "encoding": {"x": {"field": "t", "type": "quantitative"}, "y": {"field": "v", "type": "quantitative"}, "y2": {"datum": 0}}},
   {"data": {"values": [{}]}, "mark": {"type": "point", "shape": "triangle-up", "filled": true, "color": "black", "size": 30, "opacity": 1}, "encoding": {"x": {"datum": -0.5}, "y": {"datum": 7.8}}},
   {"data": {"values": [{}]}, "mark": {"type": "point", "shape": "triangle-right", "filled": true, "color": "black", "size": 30, "opacity": 1}, "encoding": {"x": {"datum": 6.05}, "y": {"datum": 0}}}
  ]
 },
 {
  "title": "(6) First-order approximations of accent commands",
  "width": 549, "height": 30,
  "layer": [
   {"data": {"values": [{}]}, "mark": {"type": "rule", "color": "#777777", "strokeWidth": 2}, "encoding": {"x": {"datum": -0.5}, "x2": {"datum": 6.0}, "y": {"datum": 0}}},
   {"data": {"values": [{}]}, "mark": {"type": "rule", "color": "black", "strokeWidth": 2}, "encoding": {"x": {"datum": -0.13}, "x2": {"datum": 4.94}, "y": {"datum": 0}}},
   {"data": {"name": "acc1"}, "mark": {"type": "rect", "fill": "white", "stroke": "black", "strokeWidth": 1.8},
    "encoding": {"x": {"field": "t0", "type": "quantitative", "scale": {"domain": [-0.5, 6.05], "nice": false, "zero": false}, "axis": {"values": [-0.5,0,0.5,1,1.5,2,2.5,3,3.5,4,4.5,5,5.5], "labelExpr": "datum.value < 0 ? '-' + format(-datum.value, '.1f') : format(datum.value, '.1f')", "title": ["t [s]", ""], "titleLineHeight": 29, "domain": false, "tickSize": 3, "offset": 3}},
     "x2": {"field": "t1"},
     "y": {"field": "aa", "type": "quantitative", "scale": {"domain": [0, 1.3], "nice": false, "zero": false}, "axis": {"values": [0, 0.5, 1], "tickCount": 10, "labelExpr": "datum.value == 0 ? '0' : format(datum.value, '.1f')", "labelOverlap": false, "title": "Aa", "titleFontSize": 14, "titlePadding": 3}},
     "y2": {"datum": 0}}},
   {"data": {"values": [{}]}, "mark": {"type": "point", "shape": "triangle-up", "filled": true, "color": "black", "size": 30, "opacity": 1}, "encoding": {"x": {"datum": -0.5}, "y": {"datum": 1.3}}},
   {"data": {"values": [{}]}, "mark": {"type": "point", "shape": "triangle-right", "filled": true, "color": "black", "size": 30, "opacity": 1}, "encoding": {"x": {"datum": 6.05}, "y": {"datum": 0}}}
  ]
 },
 {
  "title": "(7) Residual contour",
  "width": 549, "height": 62,
  "layer": [
   {"data": {"name": "resid"}, "mark": {"type": "line", "color": "black", "strokeWidth": 1.5, "interpolate": "monotone"},
    "encoding": {"x": {"field": "t", "type": "quantitative", "scale": {"domain": [-0.5, 6.05], "nice": false, "zero": false}, "axis": {"values": [-0.5,0,0.5,1,1.5,2,2.5,3,3.5,4,4.5,5,5.5], "labelExpr": "datum.value < 0 ? '-' + format(-datum.value, '.1f') : format(datum.value, '.1f')", "title": "t [s]"}},
     "y": {"field": "f", "type": "quantitative", "scale": {"type": "log", "domain": [54, 560], "nice": false}, "axis": {"values": [60,120,180,240], "title": "F₀ (t) [Hz]", "labelOverlap": false, "tickCount": 10}}, "detail": {"field": "s", "type": "nominal"}}},
   {"data": {"values": [{}]}, "mark": {"type": "point", "shape": "triangle-up", "filled": true, "color": "black", "size": 30, "opacity": 1}, "encoding": {"x": {"datum": -0.5}, "y": {"datum": 560}}},
   {"data": {"values": [{}]}, "mark": {"type": "point", "shape": "triangle-right", "filled": true, "color": "black", "size": 30, "opacity": 1}, "encoding": {"x": {"datum": 6.05}, "y": {"datum": 54}}}
  ]
 },
 {
  "title": "(8) Integration of residual contours",
  "width": 549, "height": 46,
  "layer": [
   {"data": {"values": [{}]}, "mark": {"type": "rule", "color": "#777777", "strokeWidth": 2}, "encoding": {"x": {"datum": -0.5}, "x2": {"datum": 6.0}, "y": {"datum": 0}}},
   {"data": {"name": "flat"}, "mark": {"type": "rule", "color": "black", "strokeWidth": 3, "strokeDash": [1.5, 1]}, "encoding": {"x": {"field": "t0", "type": "quantitative"}, "x2": {"field": "t1"}, "y": {"datum": 0}}},
   {"data": {"name": "integ"}, "mark": {"type": "line", "color": "black", "strokeWidth": 1.5, "interpolate": "monotone"},
    "encoding": {"x": {"field": "t", "type": "quantitative", "scale": {"domain": [-0.5, 6.05], "nice": false, "zero": false}, "axis": {"values": [-0.5,0,0.5,1,1.5,2,2.5,3,3.5,4,4.5,5,5.5], "labelExpr": "datum.value < 0 ? '-' + format(-datum.value, '.1f') : format(datum.value, '.1f')", "title": ["t [s]", ""], "titleLineHeight": 13, "domain": false, "tickSize": 3, "offset": 3}},
     "y": {"field": "v", "type": "quantitative", "scale": {"domain": [0, 44], "nice": false, "zero": false}, "axis": {"values": [0, 5, 10], "tickCount": 10, "labelOverlap": false, "title": null}},
     "detail": {"field": "s", "type": "nominal"}}},
   {"data": {"values": [{}]}, "mark": {"type": "point", "shape": "triangle-up", "filled": true, "color": "black", "size": 30, "opacity": 1}, "encoding": {"x": {"datum": -0.5}, "y": {"datum": 44}}},
   {"data": {"values": [{}]}, "mark": {"type": "point", "shape": "triangle-right", "filled": true, "color": "black", "size": 30, "opacity": 1}, "encoding": {"x": {"datum": 6.05}, "y": {"datum": 0}}}
  ]
 },
 {
  "title": "(9) First-order approximations of phrase commands",
  "width": 549, "height": 38,
  "layer": [
   {"data": {"values": [{}]}, "mark": {"type": "rule", "color": "black", "strokeWidth": 1.5}, "encoding": {"x": {"datum": -0.5}, "x2": {"datum": 6.0}, "y": {"datum": 0}}},
   {"data": {"name": "phr1"}, "mark": {"type": "rule", "color": "black", "strokeWidth": 2},
    "encoding": {"x": {"field": "t", "type": "quantitative", "scale": {"domain": [-0.5, 6.05], "nice": false, "zero": false}, "axis": {"values": [-0.5,0,0.5,1,1.5,2,2.5,3,3.5,4,4.5,5,5.5], "labelExpr": "datum.value < 0 ? '-' + format(-datum.value, '.1f') : format(datum.value, '.1f')", "title": ["t [s]", ""], "titleLineHeight": 19, "domain": false, "tickSize": 3, "offset": 3}},
     "y": {"field": "ap", "type": "quantitative", "scale": {"domain": [0, 1.75], "nice": false, "zero": false}, "axis": {"values": [0, 0.5, 1], "tickCount": 10, "labelExpr": "datum.value == 0 ? '0' : format(datum.value, '.1f')", "labelOverlap": false, "title": "Ap", "titleFontSize": 14, "titlePadding": 3}},
     "y2": {"datum": 0}}},
   {"data": {"name": "phr1"}, "mark": {"type": "point", "shape": "triangle-up", "filled": true, "color": "black", "size": 70, "opacity": 1, "yOffset": 4}, "encoding": {"x": {"field": "t", "type": "quantitative"}, "y": {"field": "ap", "type": "quantitative"}}},
   {"data": {"values": [{}]}, "mark": {"type": "point", "shape": "triangle-up", "filled": true, "color": "black", "size": 30, "opacity": 1}, "encoding": {"x": {"datum": -0.5}, "y": {"datum": 1.75}}},
   {"data": {"values": [{}]}, "mark": {"type": "point", "shape": "triangle-right", "filled": true, "color": "black", "size": 30, "opacity": 1}, "encoding": {"x": {"datum": 6.05}, "y": {"datum": 0}}}
  ]
 },
 {
  "title": "(10) First-order approximation to the smoothed F₀ contour",
  "width": 549, "height": 62,
  "layer": [
   {"data": {"values": [{}]}, "mark": {"type": "rule", "color": "black", "strokeWidth": 1.5, "strokeDash": [6, 3]}, "encoding": {"x": {"datum": -0.5}, "x2": {"datum": 6.05}, "y": {"datum": 62}}},
   {"data": {"name": "bounds"}, "transform": [{"filter": "datum.k == 'major'"}], "mark": {"type": "rule", "color": "black", "strokeDash": [4, 3], "strokeWidth": 2}, "encoding": {"x": {"field": "t", "type": "quantitative"}, "y": {"datum": 54}, "y2": {"datum": 370}}},
   {"data": {"name": "bounds"}, "transform": [{"filter": "datum.k == 'minor'"}], "mark": {"type": "rule", "color": "black", "strokeDash": [4, 3], "strokeWidth": 1}, "encoding": {"x": {"field": "t", "type": "quantitative"}, "y": {"datum": 54}, "y2": {"datum": 370}}},
   {"data": {"name": "p10m"}, "mark": {"type": "line", "color": "black", "strokeWidth": 1.2},
    "encoding": {"x": {"field": "t", "type": "quantitative", "scale": {"domain": [-0.5, 6.05], "nice": false, "zero": false}, "axis": {"values": [-0.5,0,0.5,1,1.5,2,2.5,3,3.5,4,4.5,5,5.5], "labelExpr": "datum.value < 0 ? '-' + format(-datum.value, '.1f') : format(datum.value, '.1f')", "title": ["t [s]", ""], "titleLineHeight": 5}},
     "y": {"field": "f", "type": "quantitative", "scale": {"type": "log", "domain": [54, 850], "nice": false}, "axis": {"values": [60,120,180,240], "title": "F₀ (t) [Hz]", "labelOverlap": false, "tickCount": 10}}}},
   {"data": {"name": "p10s"}, "mark": {"type": "line", "color": "black", "strokeWidth": 4.5, "interpolate": "monotone"}, "encoding": {"x": {"field": "t", "type": "quantitative"}, "y": {"field": "f", "type": "quantitative"}, "detail": {"field": "s", "type": "nominal"}}},
   {"data": {"values": [{}]}, "mark": {"type": "point", "shape": "triangle-up", "filled": true, "color": "black", "size": 30, "opacity": 1}, "encoding": {"x": {"datum": -0.5}, "y": {"datum": 850}}},
   {"data": {"values": [{}]}, "mark": {"type": "point", "shape": "triangle-right", "filled": true, "color": "black", "size": 30, "opacity": 1}, "encoding": {"x": {"datum": 6.05}, "y": {"datum": 54}}}
  ]
 },
 {
  "title": "(11) Final approximation to the F₀ contour of (3)",
  "width": 549, "height": 56,
  "layer": [
   {"data": {"values": [{}]}, "mark": {"type": "rule", "color": "black", "strokeWidth": 1.5, "strokeDash": [6, 3]}, "encoding": {"x": {"datum": -0.25}, "x2": {"datum": 6.05}, "y": {"datum": 71}}},
   {"data": {"name": "bounds"}, "transform": [{"filter": "datum.k == 'major'"}], "mark": {"type": "rule", "color": "black", "strokeDash": [4, 3], "strokeWidth": 2}, "encoding": {"x": {"field": "t", "type": "quantitative"}, "y": {"datum": 55}, "y2": {"datum": 600}}},
   {"data": {"name": "bounds"}, "transform": [{"filter": "datum.k == 'minor'"}], "mark": {"type": "rule", "color": "black", "strokeDash": [4, 3], "strokeWidth": 1}, "encoding": {"x": {"field": "t", "type": "quantitative"}, "y": {"datum": 55}, "y2": {"datum": 600}}},
   {"data": {"name": "p11m"}, "mark": {"type": "line", "color": "black", "strokeWidth": 1.2, "interpolate": "monotone"},
    "encoding": {"x": {"field": "t", "type": "quantitative", "scale": {"domain": [-0.5, 6.05], "nice": false, "zero": false}, "axis": {"values": [-0.5,0,0.5,1,1.5,2,2.5,3,3.5,4,4.5,5,5.5], "labelExpr": "datum.value < 0 ? '-' + format(-datum.value, '.1f') : format(datum.value, '.1f')", "title": ["t [s]", ""], "titleLineHeight": 17}},
     "y": {"field": "f", "type": "quantitative", "scale": {"type": "log", "domain": [55, 650], "nice": false}, "axis": {"values": [60,120,180,240], "title": "F₀ (t) [Hz]", "labelOverlap": false, "tickCount": 10}}}},
   {"data": {"name": "f0corr"}, "mark": {"type": "line", "color": "black", "strokeWidth": 4, "strokeCap": "round"}, "encoding": {"x": {"field": "t", "type": "quantitative"}, "y": {"field": "f", "type": "quantitative"}, "detail": {"field": "s", "type": "nominal"}}},
   {"data": {"name": "f0corr"}, "mark": {"type": "circle", "color": "black", "size": 16, "opacity": 1}, "encoding": {"x": {"field": "t", "type": "quantitative"}, "y": {"field": "f", "type": "quantitative"}}},
   {"data": {"values": [{}]}, "mark": {"type": "point", "shape": "triangle-up", "filled": true, "color": "black", "size": 30, "opacity": 1}, "encoding": {"x": {"datum": -0.5}, "y": {"datum": 650}}},
   {"data": {"values": [{}]}, "mark": {"type": "point", "shape": "triangle-right", "filled": true, "color": "black", "size": 30, "opacity": 1}, "encoding": {"x": {"datum": 6.05}, "y": {"datum": 55}}}
  ]
 },
 {
  "title": "(12) Optimum set of commands",
  "width": 549, "height": 32,
  "layer": [
   {"data": {"values": [{}]}, "mark": {"type": "rule", "color": "black", "strokeWidth": 1.5}, "encoding": {"x": {"datum": -0.5}, "x2": {"datum": 6.0}, "y": {"datum": 0}}},
   {"data": {"name": "acc2"}, "mark": {"type": "rect", "fill": "white", "stroke": "black", "strokeWidth": 1.8},
    "encoding": {"x": {"field": "t0", "type": "quantitative", "scale": {"domain": [-0.5, 6.05], "nice": false, "zero": false}, "axis": {"values": [-0.5,0,0.5,1,1.5,2,2.5,3,3.5,4,4.5,5,5.5], "labelExpr": "datum.value < 0 ? '-' + format(-datum.value, '.1f') : format(datum.value, '.1f')", "title": "t [s]", "domain": false, "tickSize": 3, "offset": 3}},
     "x2": {"field": "t1"},
     "y": {"field": "aa", "type": "quantitative", "scale": {"domain": [0, 1.65], "nice": false, "zero": false}, "axis": {"values": [0, 0.5, 1], "tickCount": 10, "labelExpr": "datum.value == 0 ? '0' : format(datum.value, '.1f')", "labelOverlap": false, "title": null}},
     "y2": {"datum": 0}}},
   {"data": {"name": "phr2"}, "mark": {"type": "rule", "color": "black", "strokeWidth": 2}, "encoding": {"x": {"field": "t", "type": "quantitative"}, "y": {"field": "ap", "type": "quantitative"}, "y2": {"datum": 0}}},
   {"data": {"name": "phr2"}, "mark": {"type": "point", "shape": "triangle-up", "filled": true, "color": "black", "size": 70, "opacity": 1, "yOffset": 4}, "encoding": {"x": {"field": "t", "type": "quantitative"}, "y": {"field": "ap", "type": "quantitative"}}},
   {"data": {"values": [{}]}, "mark": {"type": "point", "shape": "triangle-up", "filled": true, "color": "black", "size": 30, "opacity": 1}, "encoding": {"x": {"datum": -0.5}, "y": {"datum": 1.65}}},
   {"data": {"values": [{}]}, "mark": {"type": "point", "shape": "triangle-right", "filled": true, "color": "black", "size": 30, "opacity": 1}, "encoding": {"x": {"datum": 6.05}, "y": {"datum": 0}}}
  ]
 }
]
}
